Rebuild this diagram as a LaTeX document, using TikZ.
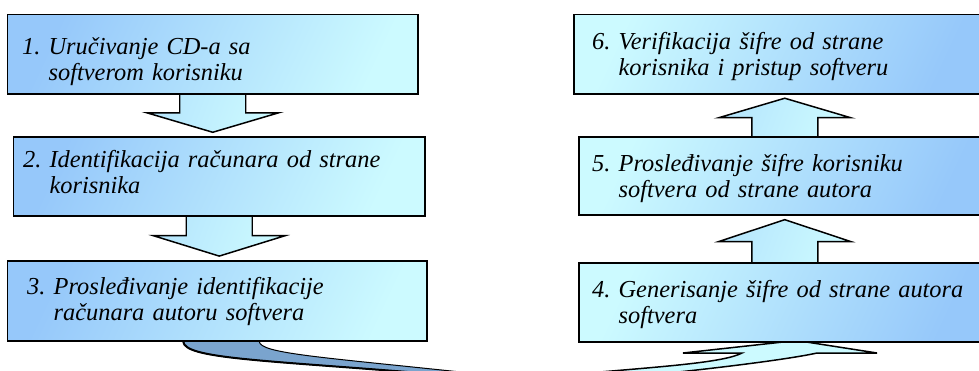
\documentclass[tikz,border=0pt]{standalone}
\usepackage{fontspec}
\setmainfont{Liberation Serif}
\usetikzlibrary{calc,backgrounds}

\definecolor{stepblue}{RGB}{150,200,250}
\definecolor{steplight}{RGB}{204,250,255}
\definecolor{ribbondark}{RGB}{122,164,206}

\tikzset{
	boxleft/.style={draw=black, line width=1.5, top color=stepblue, bottom color=steplight, shading angle=65, anchor=north west, inner sep=0, minimum height=79bp},
	boxright/.style={draw=black, line width=1.5, top color=steplight, bottom color=stepblue, shading angle=65, anchor=north west, inner sep=0, minimum height=79bp},
	steptext/.style={anchor=base west, inner sep=0, text width=395bp, align=left, font=\fontsize{24.4bp}{26.5bp}\selectfont\itshape},
	flowarrow/.style={draw=black, line width=1.5, top color=stepblue!40!steplight, bottom color=steplight, shading angle=70},
}

% number, first line, second line (indented under the first word)
\newcommand{\steplines}[3]{#1~#2\\\phantom{#1~}#3}

% block arrow from one box anchor towards the other box
\newcommand{\blockarrow}[2]{%
	\coordinate (ba-s) at (#1);
	\coordinate (ba-t) at (#1 |- #2);
	\draw[flowarrow] ($(ba-s)+(-33,0)$) -- ($(ba-s)!0.44!(ba-t)+(-33,0)$) -- ($(ba-s)!0.44!(ba-t)+(-66,0)$)
		-- ($(ba-s)!0.91!(ba-t)$) -- ($(ba-s)!0.44!(ba-t)+(66,0)$) -- ($(ba-s)!0.44!(ba-t)+(33,0)$) -- ($(ba-s)+(33,0)$);
}

\begin{document}
\begin{tikzpicture}[x=1bp, y=-1bp]
		%%%%% START %%%%%
		\useasboundingbox (0,0) rectangle (979,370);
		\clip (0,0) rectangle (979,370);
		
		% left column, going down
		\node[boxleft, minimum width=410bp] (b1) at (7,14) {};
		\node[boxleft, minimum width=411bp] (b2) at (13,136) {};
		\node[boxleft, minimum width=419bp, minimum height=80bp] (b3) at (7,260) {};
		
		\node[steptext] (t1) at (22,54) {\steplines{1.}{Uručivanje CD-a sa}{softverom korisniku}};
		\node[steptext] (t2) at (23,167) {\steplines{2.}{Identifikacija računara od strane}{korisnika}};
		\node[steptext] (t3) at (27,294) {\steplines{3.}{Prosleđivanje identifikacije}{računara autoru softvera}};
		
		% right column, going up
		\node[boxright, minimum width=412bp] (b6) at (573,14) {};
		\node[boxright, minimum width=412bp, minimum height=78bp] (b5) at (578,136) {};
		\node[boxright, minimum width=412bp] (b4) at (578,262) {};
		
		\node[steptext] (t6) at (592,49) {\steplines{6.}{Verifikacija šifre od strane}{korisnika i pristup softveru}};
		\node[steptext] (t5) at (592,171) {\steplines{5.}{Prosleđivanje šifre korisniku}{softvera od strane autora}};
		\node[steptext] (t4) at (592,297) {\steplines{4.}{Generisanje šifre od strane autora}{softvera}};
		
		\begin{scope}[on background layer]
			\blockarrow{b1.south}{b2.north}
			\blockarrow{b2.south}{b3.north}
			\blockarrow{b4.north}{b5.south}
			\blockarrow{b5.north}{b6.south}
			
			% underside of the curved arrow leaving box 3
			\draw[fill=ribbondark, line width=1] ($(b3.south)+(-34,0)$) .. controls +(1,17) and (260,360) .. (420,373)
				-- (470,373) .. controls (320,357) and ($(b3.south)+(43,12)$) .. ($(b3.south)+(42,0)$);
			\draw[line width=2] ($(b3.south)+(-34,0)$) .. controls +(1,17) and (260,360) .. (420,373);
			
			% head of the curved arrow entering box 4
			\draw[fill=steplight, line width=1.5] (600,372) .. controls (670,366) and (725,362) .. (742,353) -- (683,353)
				-- ($(b4.south)+(12,-2)$) -- (877,353) -- (817,353) .. controls (790,359) and (720,368) .. (640,376) -- cycle;
		\end{scope}
		%%%%% END %%%%%
\end{tikzpicture}
\end{document}
